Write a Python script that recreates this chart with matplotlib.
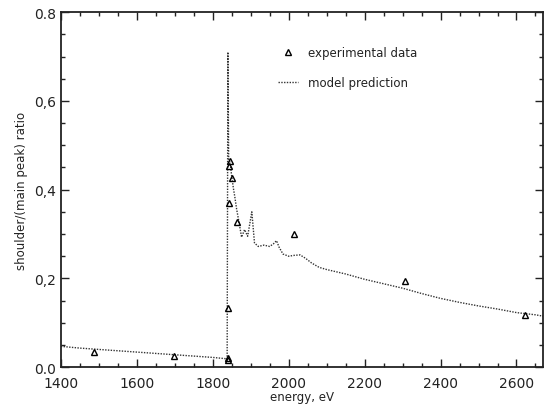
import matplotlib
matplotlib.use('Agg')
import matplotlib.pyplot as plt
from matplotlib.ticker import MultipleLocator, FixedLocator

# model prediction (dotted line)
model_energy = [1400, 1450, 1500, 1550, 1600, 1650, 1700, 1750, 1800, 1836, 1838,
                1840, 1842, 1846, 1850, 1855, 1858, 1863, 1871, 1876, 1884, 1892,
                1903, 1910, 1920, 1935, 1950, 1960, 1968, 1975, 1985, 2000, 2015,
                2030, 2045, 2060, 2080, 2100, 2150, 2200, 2250, 2300, 2350, 2400,
                2450, 2500, 2550, 2600, 2650, 2670]
model_ratio = [0.047, 0.043, 0.040, 0.037, 0.034, 0.031, 0.028, 0.025, 0.022, 0.019, 0.018,
               0.71, 0.47, 0.46, 0.43, 0.40, 0.385, 0.356, 0.318, 0.293, 0.31, 0.295,
               0.35, 0.28, 0.272, 0.275, 0.272, 0.278, 0.285, 0.27, 0.255, 0.25, 0.252,
               0.253, 0.245, 0.235, 0.225, 0.22, 0.21, 0.198, 0.188, 0.178, 0.166, 0.155,
               0.146, 0.138, 0.131, 0.123, 0.118, 0.115]

# experimental data (triangles)
exp_energy = [1487, 1697, 1839, 1840, 1841, 1843, 1846, 1852, 1843, 1863, 2013, 2307, 2622]
exp_ratio = [0.034, 0.025, 0.016, 0.020, 0.133, 0.453, 0.464, 0.426, 0.370, 0.327, 0.300, 0.194, 0.117]

ytick_vals = [0.0, 0.2, 0.4, 0.6, 0.8]
ytick_labels = ['0.0', '0,2', '0,4', '0,6', '0.8']

fig = plt.figure(figsize=(5.48, 4.10), dpi=100)
ax = fig.add_axes([0.111, 0.102, 0.880, 0.866])

ax.plot(model_energy, model_ratio, linestyle=(0, (1, 1)), color='#333333', linewidth=1.0,
        label='model prediction')
ax.plot(exp_energy, exp_ratio, linestyle='none', marker='^', markersize=5,
        markerfacecolor='none', markeredgecolor='black', markeredgewidth=1.0,
        label='experimental data')

ax.set_xlim(1400, 2670)
ax.set_ylim(0, 0.8)
ax.xaxis.set_major_locator(FixedLocator([1400, 1600, 1800, 2000, 2200, 2400, 2600]))
ax.xaxis.set_minor_locator(MultipleLocator(50))
ax.yaxis.set_major_locator(FixedLocator(ytick_vals))
ax.set_yticklabels(ytick_labels)
ax.yaxis.set_minor_locator(MultipleLocator(0.05))
ax.tick_params(which='both', direction='in', top=True, right=True, labelsize=10, colors='#222222')
ax.tick_params(which='major', length=6, width=1.0)
ax.tick_params(which='minor', length=3, width=1.0)
ax.tick_params(axis='x', which='major', pad=6)
for s in ax.spines.values():
    s.set_linewidth(1.3)
    s.set_color('#222222')

ax.set_xlabel('energy, eV', fontsize=8.5, labelpad=0, color='#222222')
ax.set_ylabel('shoulder/(main peak) ratio', fontsize=8.5, labelpad=4, color='#222222')

# legend drawn as text like the original
ax.plot([1997], [0.71], linestyle='none', marker='^', markersize=4,
        markerfacecolor='none', markeredgecolor='black')
ax.text(2050, 0.71, 'experimental data', fontsize=8.5, va='center', color='#222222')
ax.plot([1972, 2025], [0.642, 0.642], linestyle=(0, (1, 1)), color='#333333', linewidth=1.0)
ax.text(2050, 0.642, 'model prediction', fontsize=8.5, va='center', color='#222222')

fig.savefig('out.png', dpi=100)
